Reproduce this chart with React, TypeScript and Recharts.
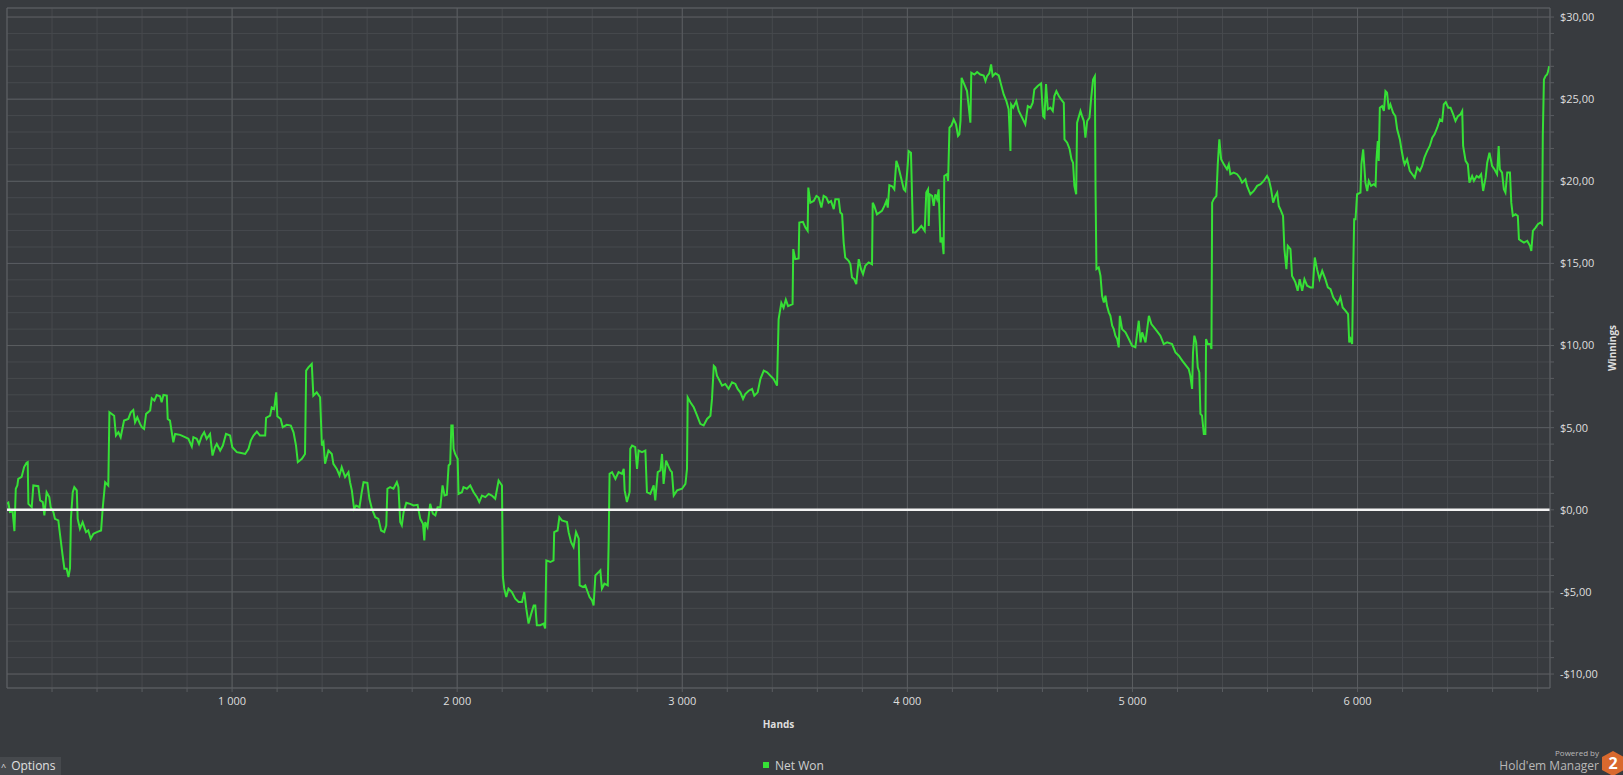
import { LineChart, Line, XAxis, YAxis, CartesianGrid, ReferenceLine, Legend } from 'recharts'

const HANDS = [
  0, 6, 13, 25, 33, 39, 46, 50, 65, 76, 87, 92, 95, 110, 117, 139, 147, 159, 166, 176,
  188, 194, 206, 213, 228, 236, 247, 255, 265, 273, 280, 284, 292, 299, 310, 314, 324, 336, 351, 361,
  372, 384, 399, 418, 425, 436, 450, 455, 476, 484, 495, 505, 520, 539, 550, 561, 569, 579, 591, 599,
  609, 618, 636, 643, 655, 665, 680, 687, 695, 710, 714, 724, 732, 739, 747, 769, 791, 806, 821, 828,
  843, 853, 865, 876, 887, 902, 913, 924, 932, 947, 959, 973, 991, 1001, 1021, 1036, 1058, 1073, 1083, 1095,
  1110, 1124, 1147, 1151, 1169, 1176, 1187, 1196, 1201, 1216, 1225, 1243, 1261, 1273, 1284, 1292, 1310, 1324, 1329, 1339,
  1354, 1361, 1376, 1391, 1399, 1406, 1413, 1428, 1443, 1450, 1465, 1477, 1487, 1502, 1517, 1524, 1532, 1542, 1551, 1566,
  1576, 1584, 1601, 1610, 1621, 1636, 1650, 1662, 1676, 1685, 1690, 1702, 1717, 1732, 1739, 1747, 1754, 1762, 1774, 1791,
  1806, 1824, 1836, 1848, 1854, 1858, 1868, 1880, 1892, 1903, 1913, 1925, 1935, 1944, 1954, 1962, 1969, 1974, 1980, 1984,
  1991, 2002, 2006, 2021, 2028, 2043, 2058, 2073, 2088, 2098, 2110, 2125, 2140, 2154, 2169, 2184, 2199, 2203, 2209, 2218,
  2228, 2243, 2258, 2273, 2288, 2298, 2307, 2317, 2329, 2340, 2347, 2354, 2369, 2384, 2391, 2396, 2414, 2428, 2431, 2446,
  2454, 2465, 2488, 2495, 2506, 2517, 2528, 2540, 2544, 2559, 2569, 2577, 2588, 2599, 2606, 2614, 2629, 2636, 2643, 2654,
  2669, 2673, 2677, 2688, 2703, 2717, 2732, 2740, 2744, 2754, 2766, 2769, 2777, 2791, 2799, 2806, 2821, 2836, 2843, 2858,
  2873, 2880, 2891, 2903, 2910, 2917, 2928, 2937, 2947, 2954, 2962, 2977, 2999, 3014, 3021, 3024, 3036, 3051, 3066, 3080,
  3095, 3110, 3125, 3132, 3140, 3147, 3154, 3166, 3177, 3191, 3206, 3221, 3236, 3246, 3258, 3270, 3280, 3295, 3310, 3320,
  3335, 3347, 3362, 3377, 3391, 3406, 3421, 3428, 3440, 3450, 3460, 3470, 3490, 3493, 3502, 3517, 3520, 3536, 3547, 3557,
  3560, 3569, 3584, 3596, 3606, 3618, 3628, 3640, 3650, 3661, 3673, 3680, 3695, 3702, 3710, 3717, 3724, 3739, 3747, 3754,
  3764, 3773, 3784, 3794, 3803, 3813, 3828, 3843, 3846, 3853, 3865, 3887, 3898, 3907, 3913, 3920, 3932, 3942, 3951, 3961,
  3972, 3984, 3991, 3999, 4006, 4016, 4025, 4036, 4050, 4062, 4077, 4084, 4092, 4095, 4099, 4110, 4117, 4124, 4132, 4139,
  4147, 4154, 4161, 4164, 4176, 4181, 4187, 4196, 4206, 4216, 4225, 4231, 4236, 4241, 4253, 4265, 4273, 4280, 4284, 4298,
  4310, 4324, 4339, 4347, 4354, 4364, 4372, 4379, 4391, 4406, 4416, 4428, 4440, 4450, 4458, 4461, 4470, 4484, 4495, 4510,
  4524, 4535, 4547, 4557, 4564, 4579, 4594, 4603, 4609, 4616, 4624, 4636, 4646, 4653, 4662, 4673, 4683, 4695, 4698, 4710,
  4721, 4729, 4736, 4742, 4750, 4754, 4769, 4776, 4784, 4791, 4799, 4809, 4816, 4825, 4833, 4836, 4840, 4850, 4858, 4865,
  4873, 4880, 4887, 4895, 4902, 4910, 4917, 4924, 4932, 4939, 4944, 4954, 4969, 4984, 4998, 5013, 5028, 5036, 5043, 5058,
  5073, 5084, 5102, 5124, 5139, 5154, 5176, 5191, 5206, 5221, 5250, 5257, 5265, 5269, 5275, 5283, 5290, 5297, 5302, 5309,
  5317, 5324, 5327, 5334, 5346, 5351, 5354, 5361, 5373, 5379, 5386, 5394, 5406, 5420, 5428, 5435, 5450, 5465, 5477, 5487,
  5502, 5509, 5524, 5539, 5554, 5569, 5583, 5598, 5606, 5616, 5625, 5635, 5643, 5650, 5657, 5669, 5675, 5684, 5690, 5702,
  5709, 5717, 5724, 5734, 5743, 5754, 5764, 5776, 5791, 5801, 5810, 5820, 5831, 5843, 5857, 5868, 5880, 5892, 5902, 5912,
  5924, 5934, 5946, 5958, 5963, 5969, 5976, 5980, 5985, 5991, 5998, 6013, 6017, 6025, 6035, 6043, 6050, 6060, 6072, 6080,
  6084, 6090, 6094, 6099, 6109, 6117, 6124, 6131, 6139, 6146, 6158, 6168, 6176, 6188, 6195, 6203, 6209, 6220, 6232, 6243,
  6254, 6265, 6277, 6287, 6297, 6309, 6321, 6332, 6342, 6354, 6366, 6376, 6383, 6392, 6403, 6413, 6425, 6435, 6446, 6457,
  6465, 6469, 6480, 6490, 6497, 6509, 6517, 6529, 6539, 6549, 6558, 6569, 6576, 6586, 6598, 6608, 6620, 6627, 6632, 6642,
  6650, 6657, 6665, 6677, 6683, 6690, 6702, 6712, 6717, 6727, 6739, 6754, 6766, 6772, 6779, 6791, 6801, 6813, 6820, 6823,
  6828, 6835, 6842, 6847, 6851,
]

const NET_WON = [
  0.36, 0.43, -0.14, -0.1, -1.3, 1.28, 1.48, 1.88, 2.0, 2.6, 2.86, 2.9, 0.36, 0.16, 1.48, 1.44, 0.57, 0.47, -0.34, 1.07,
  0.77, 0.16, -0.14, -0.55, -0.65, -1.56, -2.78, -3.59, -3.59, -4.09, -3.55, -0.55, 1.07, 1.38, 1.18, -0.55, -1.15, -0.75, -1.36, -1.26,
  -1.76, -1.46, -1.36, -1.26, 0.06, 1.68, 1.48, 5.94, 5.73, 4.52, 4.72, 4.42, 5.43, 5.53, 5.94, 6.08, 5.33, 5.63, 5.23, 5.03,
  4.92, 5.84, 6.04, 6.79, 6.65, 6.99, 6.91, 6.55, 6.99, 6.95, 5.53, 5.43, 4.72, 4.11, 4.62, 4.56, 4.42, 4.32, 3.85, 4.42,
  4.32, 4.01, 4.48, 4.72, 4.32, 4.62, 3.3, 3.81, 4.01, 3.61, 3.91, 4.62, 4.52, 3.81, 3.51, 3.47, 3.4, 3.71, 4.21, 4.52,
  4.76, 4.52, 4.52, 5.59, 5.73, 6.24, 6.14, 7.15, 5.69, 5.53, 5.03, 5.17, 5.13, 4.72, 3.91, 2.9, 3.1, 3.4, 8.47, 8.67,
  8.88, 6.95, 7.15, 6.85, 3.91, 4.11, 2.8, 3.61, 3.4, 2.8, 2.49, 2.09, 2.59, 1.99, 2.29, 1.68, 1.18, 0.06, 0.26, 0.16,
  1.07, 1.68, 1.64, 0.67, 0.06, -0.45, -0.55, -1.26, -1.36, -0.95, 1.28, 1.38, 1.28, 1.68, 1.38, -0.75, -0.95, -0.14, 0.43, 0.36,
  0.26, 0.3, -0.55, -0.85, -1.86, -0.75, -1.05, 0.36, -0.24, -0.34, 0.16, 0.16, 1.48, 0.87, 0.91, 2.7, 2.8, 5.13, 5.13, 3.71,
  3.4, 3.1, 0.97, 1.07, 1.38, 1.28, 1.48, 1.07, 0.77, 0.47, 0.87, 0.77, 0.97, 0.87, 0.67, 1.78, 1.48, -4.09, -4.8, -5.31,
  -4.8, -5.01, -5.41, -5.61, -5.61, -5.01, -6.02, -6.93, -6.32, -5.82, -5.82, -7.03, -7.03, -6.93, -7.23, -3.08, -3.18, -3.08, -1.36, -1.26,
  -0.45, -0.65, -0.75, -1.36, -1.97, -2.27, -1.36, -1.76, -4.6, -4.7, -4.6, -4.9, -5.31, -5.51, -5.82, -3.99, -3.79, -3.69, -4.8, -4.5,
  -4.6, -1.97, 2.19, 2.29, 1.88, 2.29, 2.19, 2.49, 1.18, 0.47, 1.07, 3.71, 3.91, 3.81, 2.49, 3.61, 3.51, 3.61, 1.07, 0.97,
  1.48, 0.57, 2.29, 2.39, 3.4, 1.58, 3.0, 2.7, 2.39, 2.29, 0.87, 1.18, 1.28, 1.58, 2.49, 6.85, 6.55, 6.24, 5.73, 5.23,
  5.13, 5.53, 5.73, 6.75, 8.77, 8.67, 8.17, 7.86, 7.56, 7.66, 7.36, 7.76, 7.66, 7.36, 7.15, 6.75, 7.05, 7.25, 7.36, 6.95,
  7.15, 7.96, 8.47, 8.37, 8.17, 7.96, 7.56, 11.6, 12.6, 12.3, 12.8, 12.4, 12.52, 15.87, 15.26, 15.3, 17.49, 17.53, 17.18, 16.98,
  19.62, 18.7, 18.8, 19.11, 19.01, 18.4, 19.11, 19.01, 18.7, 18.8, 18.3, 18.91, 18.91, 18.1, 17.99, 16.27, 15.36, 15.16, 14.95, 14.14,
  14.04, 13.74, 15.26, 14.65, 14.35, 14.85, 15.06, 14.95, 18.7, 18.5, 17.99, 18.2, 18.5, 18.8, 18.4, 19.76, 19.7, 19.51, 21.24, 20.83,
  20.22, 19.51, 19.41, 20.53, 21.84, 21.74, 16.88, 16.88, 17.08, 17.28, 16.98, 19.31, 19.51, 17.28, 19.21, 19.11, 18.5, 19.21, 18.91, 19.51,
  16.27, 16.58, 15.56, 20.32, 20.43, 20.02, 23.26, 23.4, 23.77, 23.47, 22.76, 22.86, 23.67, 26.3, 25.9, 25.49, 24.48, 23.57, 26.61, 26.5,
  26.65, 26.5, 26.44, 26.1, 26.4, 26.57, 27.11, 26.4, 26.57, 26.44, 25.9, 25.29, 24.88, 24.38, 21.84, 24.68, 24.48, 24.88, 24.28, 23.87,
  23.47, 24.58, 24.48, 24.78, 25.59, 25.8, 25.96, 23.97, 23.87, 25.92, 24.38, 24.48, 24.28, 25.19, 25.49, 25.19, 24.98, 24.78, 22.55, 22.35,
  21.95, 21.34, 21.13, 19.72, 19.21, 23.57, 24.28, 23.97, 23.67, 22.65, 23.67, 23.87, 24.98, 26.2, 26.4, 19.51, 14.65, 14.75, 14.24, 13.03,
  12.62, 13.03, 12.42, 12.02, 11.81, 11.21, 11.0, 10.6, 10.4, 9.89, 11.81, 11.0, 10.8, 10.4, 9.99, 9.89, 11.51, 10.19, 10.8, 10.19,
  11.81, 11.31, 11.0, 10.6, 10.09, 10.19, 10.09, 9.58, 9.38, 9.08, 8.57, 8.17, 7.36, 9.58, 10.6, 10.19, 8.67, 8.37, 5.84, 5.73,
  4.62, 4.62, 10.4, 10.09, 10.09, 9.79, 18.7, 18.91, 19.11, 21.03, 22.55, 21.34, 21.03, 20.73, 21.03, 20.43, 20.53, 20.43, 20.22, 19.92,
  20.12, 19.72, 19.21, 19.41, 19.72, 19.82, 20.02, 20.32, 20.12, 19.51, 18.7, 19.11, 19.31, 18.5, 18.3, 17.89, 15.87, 14.65, 16.07, 15.87,
  14.24, 14.04, 13.84, 13.33, 14.04, 13.33, 14.04, 13.64, 13.54, 13.54, 15.36, 14.65, 14.04, 14.55, 14.04, 13.54, 13.43, 12.93, 12.73, 12.52,
  12.93, 12.32, 12.12, 11.91, 10.19, 10.4, 10.09, 14.04, 17.69, 17.69, 19.21, 19.31, 21.03, 21.95, 19.92, 19.41, 20.02, 19.72, 19.82, 19.72,
  21.34, 22.45, 21.24, 24.48, 24.58, 24.28, 25.49, 25.39, 24.38, 24.68, 24.17, 23.97, 23.16, 22.55, 21.95, 21.34, 21.03, 21.34, 20.63, 20.43,
  20.22, 20.83, 20.63, 20.93, 21.44, 21.84, 22.15, 22.65, 22.86, 23.26, 23.77, 23.67, 24.68, 24.82, 24.48, 24.48, 24.07, 23.67, 23.97, 24.07,
  24.28, 22.15, 21.24, 21.03, 19.92, 20.32, 20.02, 20.32, 20.22, 20.43, 19.41, 20.22, 21.13, 21.74, 20.93, 20.73, 20.43, 22.15, 20.73, 20.53,
  19.51, 19.31, 20.53, 20.53, 18.7, 17.89, 17.99, 17.89, 16.47, 16.37, 16.27, 16.37, 16.07, 15.76, 16.98, 17.18, 17.39, 17.49, 17.39, 22.76,
  26.2, 26.4, 26.5, 26.71, 27.01,
]

const X_MAX = 6855
const Y_MIN = -10.85
const Y_MAX = 30.55
const X_MAJOR = [1000, 2000, 3000, 4000, 5000, 6000]
const X_TICKS = Array.from({ length: 34 }, (_, i) => (i + 1) * 200)
const Y_MAJOR = [-10, -5, 0, 5, 10, 15, 20, 25, 30]
const Y_TICKS = Array.from({ length: 41 }, (_, i) => i - 10)

const data = HANDS.map((h, i) => ({ hands: h, net: NET_WON[i] }))

const BG = '#383b3f'
const GRID_MINOR = '#474a4e'
const GRID_MAJOR = '#5a5d61'
const FRAME = '#606367'
const TEXT = '#dedede'
const GREEN = '#36e036'
const FONT = '"Open Sans", "Noto Sans", sans-serif'

const xFmt = (v: number) => (v % 1000 === 0 ? `${v / 1000} 000` : '')
const yFmt = (v: number) => (v % 5 === 0 ? `${v < 0 ? '-' : ''}$${Math.abs(v)},00` : '')

function LegendContent() {
  return (
    <div style={{ display: 'flex', alignItems: 'center', height: 20, fontFamily: FONT, fontSize: 12, color: '#cfcfcf' }}>
      <span style={{ width: 6, height: 6, background: GREEN, marginRight: 6, display: 'inline-block' }} />
      Net Won
    </div>
  )
}

function WinningsLabel(props: any) {
  const { viewBox } = props
  const x = viewBox.x + 62
  const y = viewBox.y + viewBox.height / 2
  return (
    <text x={x} y={y} transform={`rotate(-90 ${x} ${y})`} textAnchor="middle" dominantBaseline="central"
      fill={TEXT} fontSize={10} fontWeight="bold" fontFamily={FONT}>
      Winnings
    </text>
  )
}

export default function App() {
  return (
    <div style={{ position: 'fixed', left: 0, top: 0, width: 1623, height: 775, background: BG, overflow: 'hidden' }}>
      <LineChart width={1623} height={775} data={data} margin={{ top: 8, right: 0, bottom: 0, left: 7 }}>
        <CartesianGrid stroke={GRID_MINOR} strokeWidth={1} />
        <XAxis
          type="number"
          dataKey="hands"
          domain={[0, X_MAX]}
          allowDataOverflow
          ticks={X_TICKS}
          interval={0}
          tickFormatter={xFmt}
          height={67}
          tickSize={4}
          tickMargin={5}
          tick={{ fill: TEXT, fontSize: 11, fontFamily: FONT }}
          tickLine={{ stroke: GRID_MAJOR }}
          axisLine={{ stroke: FRAME }}
          label={{ value: 'Hands', position: 'insideTop', offset: 33, fill: TEXT, fontSize: 10, fontWeight: 'bold', fontFamily: FONT }}
        />
        <YAxis
          type="number"
          orientation="right"
          domain={[Y_MIN, Y_MAX]}
          allowDataOverflow
          ticks={Y_TICKS}
          interval={0}
          tickFormatter={yFmt}
          width={73}
          tickSize={4}
          tickMargin={6}
          tick={{ fill: TEXT, fontSize: 11, fontFamily: FONT, textAnchor: 'start' }}
          tickLine={{ stroke: GRID_MAJOR }}
          axisLine={{ stroke: FRAME }}
          label={<WinningsLabel />}
        />
        {X_MAJOR.map(v => (
          <ReferenceLine key={`x${v}`} x={v} stroke={GRID_MAJOR} strokeWidth={1} />
        ))}
        {Y_MAJOR.map(v => (
          <ReferenceLine key={`y${v}`} y={v} stroke={GRID_MAJOR} strokeWidth={1} />
        ))}
        <ReferenceLine x={0} stroke={FRAME} strokeWidth={1} />
        <ReferenceLine y={Y_MAX} stroke={FRAME} strokeWidth={1} />
        <Line type="linear" dataKey="net" name="Net Won" stroke={GREEN} strokeWidth={2} dot={false} isAnimationActive={false} />
        <ReferenceLine y={0} stroke="#f4f4f4" strokeWidth={2.5} />
        <Legend verticalAlign="bottom" height={20} content={<LegendContent />} wrapperStyle={{ left: 763, bottom: 0, width: 90 }} />
      </LineChart>

      <div style={{ position: 'absolute', left: 0, top: 757, width: 61, height: 18, background: '#46494d', fontFamily: FONT, fontSize: 12, color: '#e0e0e0', lineHeight: '18px', whiteSpace: 'nowrap' }}>
        <span style={{ fontSize: 9, marginLeft: 1, marginRight: 5 }}>^</span>Options
      </div>

      <div style={{ position: 'absolute', left: 1480, top: 748, width: 119, textAlign: 'right', fontFamily: FONT, color: '#b8b8b8', whiteSpace: 'nowrap' }}>
        <div style={{ fontSize: 8, lineHeight: '10px' }}>Powered by</div>
        <div style={{ fontSize: 12, lineHeight: '16px' }}>Hold'em Manager</div>
      </div>
      <svg style={{ position: 'absolute', left: 1602, top: 751 }} width={24} height={26}>
        <polygon points="11,0 22,6 22,19 11,25 0,19 0,6" fill="#d9692e" />
        <text x={11} y={18} textAnchor="middle" fill="#ffffff" fontSize={16} fontWeight="bold" fontFamily={FONT}>2</text>
      </svg>
    </div>
  )
}
